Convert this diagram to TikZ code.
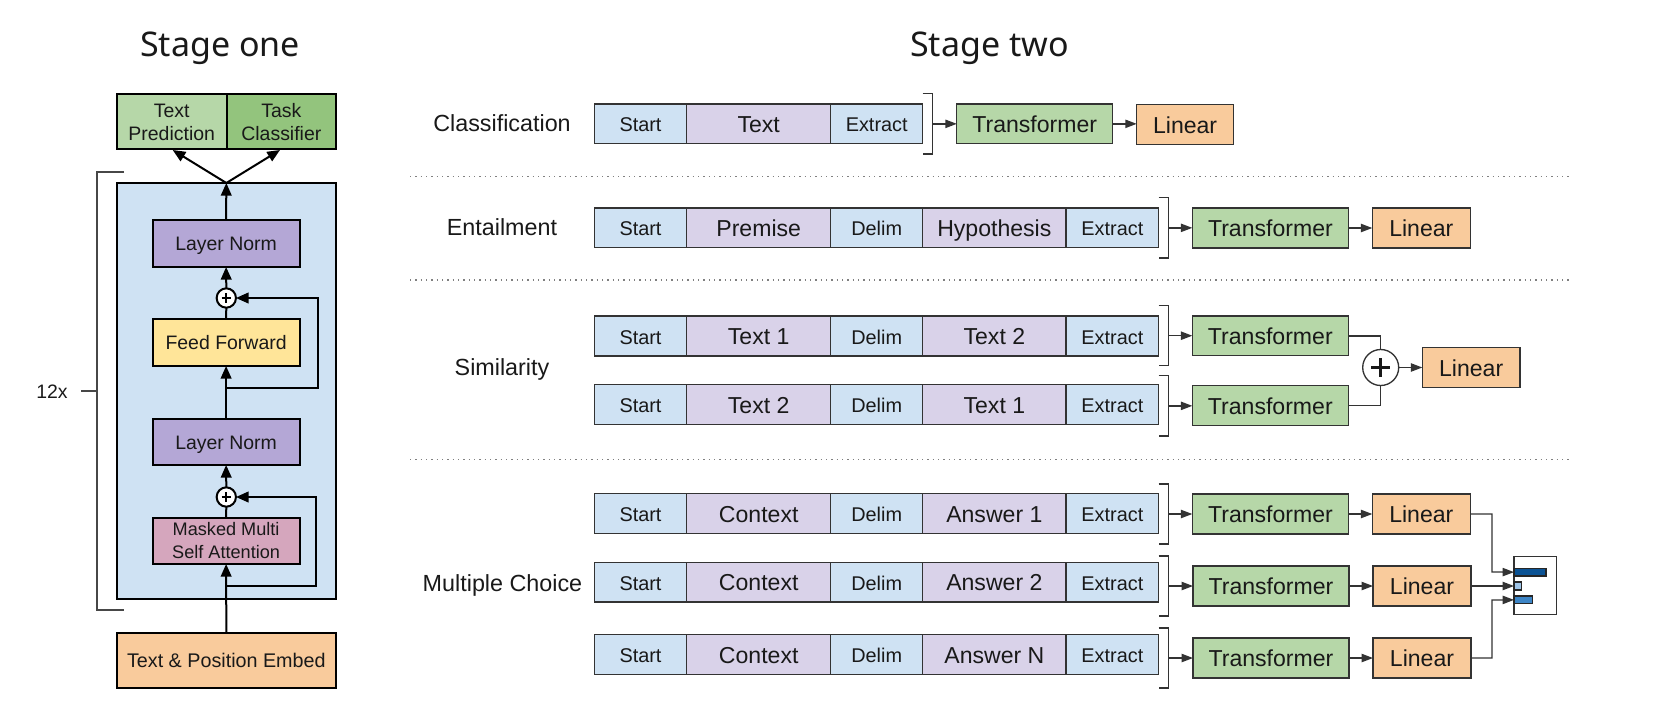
\documentclass[tikz,border=0pt]{standalone}
\usepackage{fontspec}
\setmainfont{Liberation Sans}
\newfontfamily\titlefont{Noto Sans}
\usetikzlibrary{arrows.meta}
\definecolor{cblue}{HTML}{CFE2F3}
\definecolor{cpurple}{HTML}{D9D2E9}
\definecolor{cgreen}{HTML}{B6D7A8}
\definecolor{cgreenb}{HTML}{93C47D}
\definecolor{corange}{HTML}{F9CB9C}
\definecolor{cnorm}{HTML}{B4A7D6}
\definecolor{cyellow}{HTML}{FFE599}
\definecolor{cpink}{HTML}{D5A6BD}
\definecolor{cline}{HTML}{333333}
\definecolor{rdark}{HTML}{0B5394}
\definecolor{rlight}{HTML}{9FC5E8}
\definecolor{rmid}{HTML}{3D85C6}
\newcommand\fsz[1]{\fontsize{#1}{17.2}\selectfont}
\newcommand\twol[3][-6pt]{\raisebox{#1}[0pt][0pt]{\begin{tabular}{@{}c@{}}#2\\#3\end{tabular}}}
\tikzset{
  one/.style={draw=black,line width=1.5pt,inner sep=0pt,outer sep=0pt,align=center,font=\fsz{14.6},text=black!90},
  onesingle/.style={one,text height=11pt,text depth=0pt},
  two/.style={draw=cline,line width=1pt,inner sep=0pt,outer sep=0pt,align=center,text=black!90},
  small/.style={two,font=\fsz{14.9},text height=12pt,text depth=0pt},
  big/.style={two,font=\fsz{17.3},text height=13.2pt,text depth=0pt},
  sbl/.style={small,fill=cblue},
  bpu/.style={big,fill=cpurple},
  tfm/.style={big,fill=cgreen},
  lin/.style={big,fill=corange},
  oneline/.style={line width=1.5pt,draw=black},
  onearr/.style={oneline,-{Triangle[length=9.5pt,width=8pt]}},
  twoline/.style={line width=1pt,draw=cline},
  twoarr/.style={twoline,-{Triangle[length=8.5pt,width=6.2pt]}},
  brk/.style={line width=1pt,draw=cline},
  rowlabel/.style={font=\fsz{17.5},text=black!90,inner sep=0pt,anchor=base},
  stagetitle/.style={font=\titlefont\fsz{25.5},text=black!90,inner sep=0pt},
  sum/.style={circle,draw=black,fill=white,inner sep=0pt,outer sep=0pt},
  divider/.style={draw=gray,line width=1pt,dash pattern=on 1pt off 3pt},
  resbar/.style={draw=black!85,line width=.9pt,inner sep=0pt,outer sep=0pt}
}
% name, x1, y1, x2, y2, style, text
\newcommand\bx[7]{%
  \pgfmathsetmacro\bxc{(#2+#4)/2}\pgfmathsetmacro\byc{(#3+#5)/2}%
  \pgfmathsetmacro\bw{(#4-#2)*0.75}\pgfmathsetmacro\bh{(#5-#3)*0.75}%
  \node[#6,minimum width=\bw pt,minimum height=\bh pt] (#1) at (\bxc,\byc) {#7};}
% short row: id, y1, y2, text
\newcommand\rowthree[4]{%
  \bx{#1s}{594.3}{#2}{686.7}{#3}{sbl}{Start}
  \bx{#1t}{686.7}{#2}{830.7}{#3}{bpu}{#4}
  \bx{#1e}{830.7}{#2}{922.7}{#3}{sbl}{Extract}}
% long row: id, y1, y2, text a, text b
\newcommand\rowfive[5]{%
  \bx{#1s}{594.3}{#2}{686.7}{#3}{sbl}{Start}
  \bx{#1t}{686.7}{#2}{830.7}{#3}{bpu}{#4}
  \bx{#1d}{830.7}{#2}{922.7}{#3}{sbl}{Delim}
  \bx{#1u}{922.7}{#2}{1066}{#3}{bpu}{#5}
  \bx{#1e}{1066}{#2}{1158.7}{#3}{sbl}{Extract}}
% bracket: id, x1, x2, y1, y2
\newcommand\bracket[5]{%
  \pgfmathsetmacro\bmy{(#4+#5)/2}%
  \coordinate (#1b) at (#3,\bmy);
  \draw[brk] (#2,#4) -- (#3,#4) -- (#3,#5) -- (#2,#5);}
\begin{document}
\begin{tikzpicture}[x=0.75pt,y=-0.75pt]
\useasboundingbox (0,0) rectangle (1656,718);
% titles
\node[stagetitle] (t1) at (220,48) {Stage one};
\node[stagetitle] (t2) at (989.5,48) {Stage two};
% stage one
\bx{tp}{116.7}{94}{226.7}{149}{one,fill=cgreen}{\twol{Text}{Prediction}}
\bx{tc}{226.7}{94}{336}{149}{one,fill=cgreenb}{\twol{Task}{Classifier}}
\bx{blk}{116.7}{183}{336}{599}{one,fill=cblue}{}
\bx{ln}{152.7}{220}{299.5}{267}{onesingle,fill=cnorm}{Layer Norm}
\bx{ff}{152.7}{319}{299.5}{366}{onesingle,fill=cyellow}{Feed Forward}
\bx{lm}{152.7}{419}{299.5}{465}{onesingle,fill=cnorm}{Layer Norm}
\bx{ma}{152.7}{518}{299.5}{564}{one,fill=cpink,font=\fsz{13.6}}{\twol[-5pt]{Masked Multi}{Self Attention}}
\bx{em}{116.7}{633}{336}{688}{onesingle,text height=10.4pt,fill=corange,font=\fsz{14.8}}{Text \& Position Embed}
\node[sum,line width=1.5pt,minimum size=14.5pt] (pa) at (226.3,298) {};
\node[sum,line width=1.5pt,minimum size=14.5pt] (pb) at (226.3,497) {};
\draw[line width=1.5pt] (pa.center)+(-4.6,0) -- +(4.6,0) (pa.center)+(0,-4.6) -- +(0,4.6);
\draw[line width=1.5pt] (pb.center)+(-4.6,0) -- +(4.6,0) (pb.center)+(0,-4.6) -- +(0,4.6);
\coordinate (top) at (blk.north);
\coordinate (ja) at (226.3,388);
\coordinate (jb) at (226.3,586);
\draw[onearr] (em.north) -- (ma.south);
\draw[oneline] (ma.north) -- (pb.south);
\draw[onearr] (pb.north) -- (lm.south);
\draw[onearr] (lm.north) -- (ff.south);
\draw[oneline] (ff.north) -- (pa.south);
\draw[onearr] (pa.north) -- (ln.south);
\draw[onearr] (ln.north) -- (top);
\coordinate (tipa) at (172.7,150);
\coordinate (tipb) at (280,150);
\draw[onearr] (top) -- (tipa);
\draw[onearr] (top) -- (tipb);
\draw[onearr] (ja) -| (317.7,298) -- (pa.east);
\draw[onearr] (jb) -| (316,497) -- (pb.east);
% 12x
\node[font=\fsz{14.6},text=black!90,inner sep=0pt] (rep) at (52,391.5) {12x};
\draw[line width=1pt,draw=cline!90] (124,172) -- (97,172) -- (97,610) -- (124,610);
\coordinate (repb) at (97,391);
\draw[line width=1pt,draw=cline!90] (81,391) -- (repb);
% dividers
\draw[divider] (410,176.5) -- (1570,176.5);
\draw[divider] (410,280) -- (1570,280);
\draw[divider] (410,459.5) -- (1570,459.5);
% row labels
\node[rowlabel] (la) at (502,131) {Classification};
\node[rowlabel] (lb) at (502,235) {Entailment};
\node[rowlabel] (lc) at (502,375) {Similarity};
\node[rowlabel] (ld) at (502.5,591) {Multiple Choice};
% classification
\rowthree{a}{104}{143.7}{Text}
\bracket{a}{922.7}{932.7}{93.7}{154}
\bx{at}{956.8}{104}{1112.7}{143.7}{tfm}{Transformer}
\bx{al}{1136.7}{104.5}{1233.5}{144.5}{lin}{Linear}
\draw[twoarr] (ab) -- (at.west |- ab);
\draw[twoarr] (at.east) -- (al.west |- at.east);
% entailment
\rowfive{b}{208}{247.7}{Premise}{Hypothesis}
\bracket{b}{1158.7}{1168.7}{197.7}{258}
\bx{bt}{1192.3}{208}{1348.5}{248}{tfm}{Transformer}
\bx{bl}{1372.3}{208}{1470.3}{248}{lin}{Linear}
\draw[twoarr] (bb) -- (bt.west |- bb);
\draw[twoarr] (bt) -- (bl);
% similarity
\rowfive{c}{316}{356}{Text 1}{Text 2}
\rowfive{d}{384.7}{424.3}{Text 2}{Text 1}
\bracket{c}{1158.7}{1168.7}{305.7}{365.7}
\bracket{d}{1158.7}{1168.7}{375.7}{436}
\bx{ct}{1192.3}{316}{1348.3}{355.7}{tfm}{Transformer}
\bx{dt}{1192.3}{385.7}{1348.3}{425.7}{tfm}{Transformer}
\bx{cl}{1422.3}{347.7}{1520}{387.3}{lin}{Linear}
\node[sum,draw=cline,line width=1pt,minimum size=27pt] (cp) at (1380.7,367.5) {};
\draw[line width=2pt,black!90] (cp.center)+(-9.5,0) -- +(9.5,0) (cp.center)+(0,-9.5) -- +(0,9.5);
\draw[twoarr] (cb) -- (ct.west |- cb);
\draw[twoarr] (db) -- (dt.west |- db);
\draw[twoline] (ct.east) -| (cp.north);
\draw[twoline] (dt.east) -| (cp.south);
\draw[twoarr] (cp) -- (cl);
% multiple choice
\rowfive{e}{493.7}{533.3}{Context}{Answer 1}
\rowfive{f}{562.3}{602}{Context}{Answer 2}
\rowfive{g}{634.3}{674.3}{Context}{Answer N}
\bracket{e}{1158.7}{1168.7}{484}{544}
\bracket{f}{1158.7}{1168.7}{556}{616}
\bracket{g}{1158.7}{1168.7}{628}{688}
\bx{et}{1192.3}{494}{1348.7}{534}{tfm}{Transformer}
\bx{ft}{1193}{566}{1349}{606}{tfm}{Transformer}
\bx{gt}{1193}{638}{1349}{678}{tfm}{Transformer}
\bx{el}{1372.3}{494}{1470.3}{534}{lin}{Linear}
\bx{fl}{1373}{566}{1471}{606}{lin}{Linear}
\bx{gl}{1373}{638}{1471}{678}{lin}{Linear}
\draw[twoarr] (eb) -- (et.west |- eb);
\draw[twoarr] (fb) -- (ft.west |- fb);
\draw[twoarr] (gb) -- (gt.west |- gb);
\draw[twoarr] (et) -- (el);
\draw[twoarr] (ft) -- (fl);
\draw[twoarr] (gt) -- (gl);
% result
\bx{rs}{1514}{556.7}{1556.3}{614.7}{draw=cline,line width=1pt,fill=white}{}
\bx{ra}{1514}{568.3}{1546}{576}{resbar,fill=rdark}{}
\bx{rb}{1514}{582}{1521.7}{590}{resbar,fill=rlight}{}
\bx{rc}{1514}{596}{1532.5}{603.7}{resbar,fill=rmid}{}
\draw[twoarr] (el.east) -| (1492,572) -- (ra.west);
\draw[twoarr] (fl.east) -- (fl.east -| rb.west);
\draw[twoarr] (gl.east) -| (1492,600) -- (rc.west);
\end{tikzpicture}
\end{document}
